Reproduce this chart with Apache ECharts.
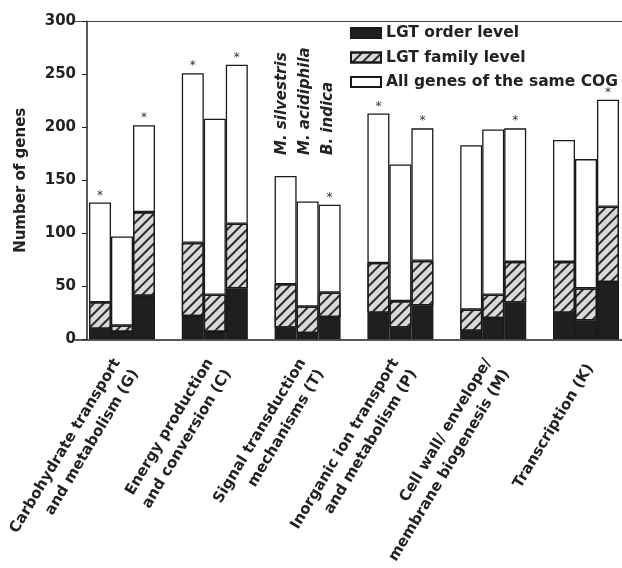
<!DOCTYPE html>
<html><head><meta charset="utf-8">
<script src="https://cdn.jsdelivr.net/npm/echarts@6/dist/echarts.min.js"></script>
<style>html,body{margin:0;padding:0;background:#fff}#c{width:622px;height:568px}</style>
</head><body><div id="c"></div>
<script>
const categories = ['Carbohydrate transport\nand metabolism (G)', 'Energy production\nand conversion (C)', 'Signal transduction\nmechanisms (T)', 'Inorganic ion transport\nand metabolism (P)', 'Cell wall/ envelope/\nmembrane biogenesis (M)', 'Transcription (K)'];
const species = ['M. silvestris', 'M. acidiphila', 'B. indica'];
const levelNames = ['LGT order level', 'LGT family level', 'All genes of the same COG'];
// cumulative counts (per species, per category)
const orderSilvestris = [10, 22, 11, 25, 8, 25];
const orderAcidiphila = [7, 7, 6, 11, 20, 18];
const orderIndica = [41, 48, 21, 32, 35, 54];
const familySilvestris = [35, 91, 52, 72, 28, 73];
const familyAcidiphila = [13, 42, 31, 36, 42, 48];
const familyIndica = [120, 109, 44, 74, 73, 125];
const allSilvestris = [129, 251, 154, 213, 183, 188];
const allAcidiphila = [97, 208, 130, 165, 198, 170];
const allIndica = [202, 259, 127, 199, 199, 226];
const starSilvestris = [true, true, false, true, false, false];
const starAcidiphila = [false, false, false, false, false, false];
const starIndica = [true, true, true, true, true, true];
const yTicks = [0, 50, 100, 150, 200, 250, 300];

const orderData = [orderSilvestris, orderAcidiphila, orderIndica];
const familyData = [familySilvestris, familyAcidiphila, familyIndica];
const allData = [allSilvestris, allAcidiphila, allIndica];
const starData = [starSilvestris, starAcidiphila, starIndica];

const FONT = 'DejaVu Sans';
const border = { borderColor: '#1a1a1a', borderWidth: 1.3 };
const hatch = { symbol: 'rect', symbolSize: 1, color: '#2a2a2a', dashArrayX: [1, 0], dashArrayY: [1.5, 4.5], rotation: -Math.PI / 4 };
const series = [];
species.forEach((sp, s) => {
  const o = orderData[s], f = familyData[s], a = allData[s];
  series.push({
    name: levelNames[0], type: 'bar', stack: sp, barWidth: 22, barGap: '0%',
    itemStyle: Object.assign({ color: '#1f1f1f' }, border),
    data: o.slice()
  });
  series.push({
    name: levelNames[1], type: 'bar', stack: sp, barWidth: 22, barGap: '0%',
    itemStyle: Object.assign({ color: '#d9d9d9', decal: hatch }, border),
    data: f.map((v, i) => v - o[i])
  });
  series.push({
    name: levelNames[2], type: 'bar', stack: sp, barWidth: 22, barGap: '0%',
    itemStyle: Object.assign({ color: '#ffffff' }, border),
    label: { show: false, position: 'top', distance: 1, formatter: '*', fontSize: 12, color: '#333', fontFamily: FONT },
    data: a.map((v, i) => ({ value: v - f[i], label: { show: starData[s][i] } }))
  });
});

const chart = echarts.init(document.getElementById('c'), null, { renderer: 'canvas' });
chart.setOption({
  animation: false,
  backgroundColor: '#fff',
  grid: { left: 75.6, right: -10.4, top: 21.3, bottom: 228.7, containLabel: false, outerBoundsMode: 'none' },
  legend: {
    data: levelNames, orient: 'vertical', left: 350, top: 25, padding: 0,
    icon: 'rect', itemWidth: 30, itemHeight: 10, itemGap: 8.5,
    textStyle: { fontFamily: FONT, fontWeight: 'bold', fontSize: 15.5, color: '#222', lineHeight: 16 }
  },
  xAxis: [{
    type: 'category', data: categories,
    axisLine: { show: true, lineStyle: { color: '#222', width: 1.5 } },
    axisTick: { show: false },
    axisLabel: {
      interval: 0, rotate: 59, margin: 33, padding: [0, -8, 0, 0],
      fontFamily: FONT, fontWeight: 'bold', fontSize: 15, lineHeight: 21, color: '#222'
    }
  }, {
    type: 'category', data: categories, position: 'top',
    axisLine: { show: true, lineStyle: { color: '#444', width: 1.2 } },
    axisTick: { show: false }, axisLabel: { show: false }
  }],
  yAxis: {
    type: 'value', min: 0, max: 300, interval: 50, offset: -11.4,
    name: 'Number of genes', nameLocation: 'middle', nameGap: 58, nameRotate: 90,
    nameTextStyle: { fontFamily: FONT, fontWeight: 'bold', fontSize: 15, color: '#222' },
    axisLine: { show: true, lineStyle: { color: '#222', width: 1.5 } },
    axisTick: { show: true, inside: false, length: 5, lineStyle: { color: '#222' } },
    splitLine: { show: false },
    axisLabel: { margin: 11, fontFamily: FONT, fontWeight: 'bold', fontSize: 15, color: '#222',
      formatter: v => yTicks.includes(v) ? String(v) : '' }
  },
  graphic: species.map((sp, i) => ({
    type: 'text', x: [282, 305, 328][i], y: 155, rotation: Math.PI / 2,
    style: { text: sp, fontFamily: FONT, fontWeight: 'bold', fontStyle: 'italic', fontSize: 15,
      fill: '#222', textAlign: 'left', textVerticalAlign: 'middle' }
  })),
  series: series
});
</script></body></html>
